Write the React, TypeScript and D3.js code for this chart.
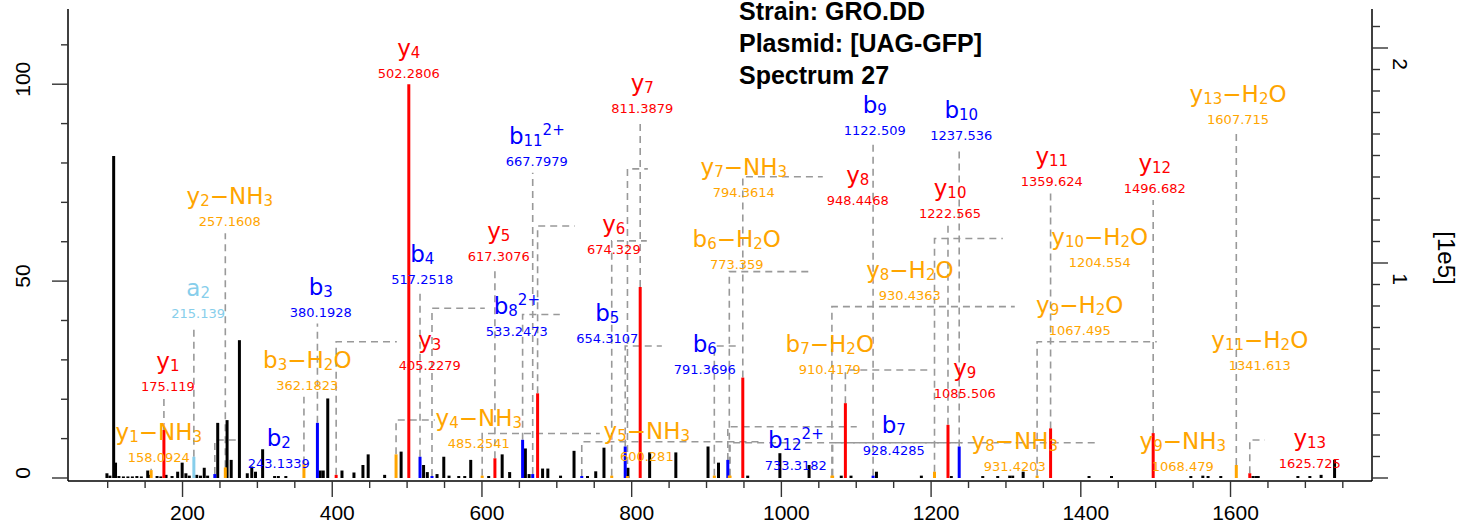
import React from "react";
import * as d3 from "d3";

// ---------- data ----------
// unannotated (black) peaks: m/z and relative intensity (%)
const blackMz = [99, 103, 108, 110.5, 115, 121, 127, 133, 139, 145, 153.5, 156, 166, 171, 178, 186, 193.5, 199.5, 204.5, 209, 219, 224, 229, 233.5, 247, 259.5, 265, 276, 286.5, 292.5, 297.5, 307, 323, 328, 338, 384, 388, 394, 413, 429, 441, 448, 470, 492, 522, 527, 540, 549, 556, 569, 577, 585, 609, 627, 637, 658, 663, 681, 688, 705, 723, 741, 752, 763, 795, 824, 859, 902, 916, 955, 998, 1037, 1080, 1093, 1127, 1187, 1227, 1269, 1289, 1305, 1309, 1323, 1411, 1441, 1547, 1563, 1570, 1587, 1630, 1634, 1637, 1690, 1706, 1721, 1739];
const blackInt = [1.2, 0.6, 81.8, 3.9, 0.5, 0.4, 0.4, 0.4, 0.5, 0.4, 1.9, 0.8, 0.5, 0.4, 0.8, 0.5, 1.6, 3.9, 1.2, 0.6, 0.8, 0.6, 2.6, 0.6, 14.0, 14.7, 4.6, 35.0, 1.2, 2.9, 1.6, 7.3, 0.5, 0.5, 0.5, 1.9, 1.9, 20.2, 1.9, 1.4, 3.3, 6.0, 0.8, 6.7, 3.3, 1.5, 1.0, 5.4, 0.6, 0.5, 0.5, 4.6, 0.5, 6.0, 1.5, 7.5, 1.0, 2.4, 2.4, 0.6, 6.9, 0.5, 1.7, 7.7, 2.6, 6.5, 6.5, 8.0, 3.9, 0.6, 6.3, 3.3, 0.6, 0.6, 1.6, 0.6, 0.5, 0.5, 0.5, 0.6, 0.6, 1.6, 0.5, 0.5, 0.5, 0.6, 0.5, 0.5, 0.5, 0.5, 0.5, 0.5, 0.5, 0.8, 4.6];

// annotated fragment ions
const ionNames = ["y1-NH3", "y1", "a2", "b2", "y2-NH3", "b3-H2O", "b3", "y3", "y4-NH3", "y4", "b4", "b8^2+", "y5-NH3", "y5", "b5", "b11^2+", "y6", "b12^2+", "b6-H2O", "b6", "y7-NH3", "y7", "b7-H2O", "b7", "y8-H2O", "y8-NH3", "y8", "y9-H2O", "y9-NH3", "y9", "b9", "y10-H2O", "y10", "b10", "y11-H2O", "y11", "y12", "y13-H2O", "y13"];
const ionMz = [158.0924, 175.119, 215.139, 243.1339, 257.1608, 362.1823, 380.1928, 405.2279, 485.2541, 502.2806, 517.2518, 533.2473, 600.281, 617.3076, 654.3107, 667.7979, 674.329, 733.3182, 773.359, 791.3696, 794.3614, 811.3879, 910.4179, 928.4285, 930.4363, 931.4203, 948.4468, 1067.495, 1068.479, 1085.506, 1122.509, 1204.554, 1222.565, 1237.536, 1341.613, 1359.624, 1496.682, 1607.715, 1625.725];
const ionInt = [2.0, 12.2, 5.4, 1.0, 2.7, 3.7, 14.0, 0.8, 6.0, 100, 5.4, 0.5, 0.6, 5.0, 9.7, 1.0, 21.5, 0.5, 0.6, 8.0, 0.5, 48.5, 0.6, 4.6, 0.6, 0.6, 25.5, 0.6, 0.6, 19.0, 0.6, 1.6, 13.5, 8.0, 0.6, 12.6, 11.4, 3.3, 1.2];

// label layout (in data units): label centre m/z, level of the m/z text, end of horizontal leader
const labelMz = [168.3, 180.4, 220.8, 328.6, 263.2, 366.7, 384.7, 530.3, 595.8, 502.3, 520.3, 646.6, 820.2, 622.5, 767.5, 673.3, 776.1, 1019.3, 940.4, 897.7, 949.8, 814.2, 1064.7, 1150.2, 1171.6, 1311.8, 1102.1, 1398.6, 1536.2, 1245.0, 1124.8, 1425.3, 1225.4, 1240.3, 1639.1, 1361.2, 1498.8, 1610.1, 1705.9];
const labelLevel = [4.14, 22.0, 40.6, 2.54, 63.9, 22.4, 41.0, 27.5, 7.6, 101.7, 49.3, 36.0, 4.2, 55.0, 34.4, 79.3, 56.9, 2.1, 53.1, 26.4, 71.4, 92.7, 26.4, 5.9, 45.3, 1.85, 69.4, 36.4, 1.85, 20.3, 87.2, 53.7, 66.0, 85.9, 27.5, 74.1, 72.4, 89.9, 2.54];
const leaderEnd: (number | null)[] = [null, null, null, 276.5, null, null, null, 486.3, 537.0, null, null, 603.8, 757.4, null, 704.0, null, 724.0, 975.2, 820.2, 840.3, 821.6, null, 944.5, 1100.7, 1042.0, 1241.0, 1055.3, 1311.8, 1418.7, 1198.3, null, 1295.8, null, null, 1501.5, null, null, null, 1645.8];

const xTicks = d3.range(100, 1751, 50);
const xLabels = [200, 400, 600, 800, 1000, 1200, 1400, 1600];
const yTicks = d3.range(0, 111, 10);
const yLabels = [0, 50, 100];
const rTicks = d3.range(0, 22).map((i) => i / 10);
const rLabels = [1, 2];
const titleLines = ["Strain: GRO.DD", "Plasmid: [UAG-GFP]", "Spectrum 27"];

// ---------- styling ----------
const RED = "#FF0000";
const BLUE = "#0000FF";
const ORANGE = "#FFA500";
const SKY = "#87CEEB";
const LABEL_FONT = "'DejaVu Sans', Verdana, sans-serif";
const AXIS_FONT = "'Liberation Sans', Arial, Helvetica, sans-serif";
const NAME_SIZE = 23;
const SUB_SIZE = 15;
const SUB_DY = 2;

function parseIon(name: string) {
  const m = name.match(/^([aby])(\d+)(?:-(NH3|H2O))?(?:\^(\d\+))?$/);
  if (!m) return { letter: name, idx: "", loss: "", charge: "" };
  return { letter: m[1], idx: m[2], loss: m[3] || "", charge: m[4] || "" };
}

function ionColor(name: string) {
  const p = parseIon(name);
  if (p.loss) return ORANGE;
  if (p.letter === "y") return RED;
  if (p.letter === "b") return BLUE;
  return SKY;
}

function fmtMz(v: number) {
  return String(Number(v.toPrecision(7)));
}

function IonName({ name, x, y, color }: { name: string; x: number; y: number; color: string }) {
  const p = parseIon(name);
  const parts: React.ReactNode[] = [];
  parts.push(<tspan key="l">{p.letter}</tspan>);
  parts.push(
    <tspan key="i" fontSize={SUB_SIZE} dy={SUB_DY}>
      {p.idx}
    </tspan>
  );
  let cur = SUB_DY;
  if (p.loss === "NH3") {
    parts.push(<tspan key="a" fontSize={NAME_SIZE} dy={-cur}>{"\u2212NH"}</tspan>);
    parts.push(<tspan key="b" fontSize={SUB_SIZE} dy={SUB_DY}>3</tspan>);
    cur = SUB_DY;
  } else if (p.loss === "H2O") {
    parts.push(<tspan key="a" fontSize={NAME_SIZE} dy={-cur}>{"\u2212H"}</tspan>);
    parts.push(<tspan key="b" fontSize={SUB_SIZE} dy={SUB_DY}>2</tspan>);
    parts.push(<tspan key="c" fontSize={NAME_SIZE} dy={-SUB_DY}>O</tspan>);
    cur = 0;
  }
  if (p.charge) {
    parts.push(
      <tspan key="z" fontSize={SUB_SIZE} dy={-cur - 9}>
        {p.charge}
      </tspan>
    );
  }
  return (
    <text x={x} y={y} textAnchor="middle" fill={color} fontSize={NAME_SIZE} fontFamily={LABEL_FONT}>
      {parts}
    </text>
  );
}

export default function App() {
  const W = 1462;
  const H = 523;
  const x = d3.scaleLinear().domain([47, 1789]).range([68, 1372]);
  const y = d3.scaleLinear().domain([0, 119.1]).range([478, 9]);
  const yR = d3.scaleLinear().domain([0, 2.1814]).range([478, 9]);
  const axisY = 481;
  const left = 68;
  const right = 1372;
  const top = 9;

  const ions = ionNames.map((name, i) => {
    const px = x(ionMz[i]);
    const peakTop = y(ionInt[i]);
    const mzBase = y(labelLevel[i]);
    const nameBase = mzBase - 22;
    const lx = x(labelMz[i]);
    const end = leaderEnd[i];
    let leader = "";
    if (end === null) {
      if (mzBase + 7 < peakTop - 1) leader = `M${px},${peakTop}V${mzBase + 7}`;
    } else {
      const ly = nameBase - 6;
      leader = `M${px},${peakTop}V${ly}H${x(end)}`;
    }
    return { name, px, peakTop, mzBase, nameBase, lx, leader, color: ionColor(name), mz: ionMz[i] };
  });

  return (
    <svg width={W} height={H} style={{ position: "absolute", left: 0, top: 0, background: "#fff" }}>
      <rect x={0} y={0} width={W} height={H} fill="#fff" />
      {/* leaders */}
      <g fill="none" stroke="#999" strokeWidth={1.6} strokeDasharray="7,5">
        {ions.map((d, i) => (d.leader ? <path key={i} d={d.leader} /> : null))}
      </g>
      {/* black peaks */}
      <g stroke="#000" strokeWidth={3}>
        {blackMz.map((m, i) => (
          <line key={i} x1={x(m)} x2={x(m)} y1={y(0)} y2={y(blackInt[i])} />
        ))}
      </g>
      {/* annotated peaks */}
      <g strokeWidth={3}>
        {ions.map((d, i) => (
          <line key={i} x1={d.px} x2={d.px} y1={y(0)} y2={d.peakTop} stroke={d.color} />
        ))}
      </g>
      {/* labels */}
      {ions.map((d, i) => (
        <g key={i}>
          <IonName name={d.name} x={d.lx} y={d.nameBase} color={d.color} />
          <text x={d.lx} y={d.mzBase} textAnchor="middle" fill={d.color} fontSize={13} fontFamily={LABEL_FONT}>
            {fmtMz(d.mz)}
          </text>
        </g>
      ))}
      {/* axes */}
      <g stroke="#000" strokeWidth={1.5} fill="none">
        <line x1={left} x2={left} y1={top} y2={axisY} />
        <line x1={right} x2={right} y1={top} y2={axisY} />
        <line x1={left} x2={right} y1={axisY} y2={axisY} />
      </g>
      <g stroke="#333" strokeWidth={1.4}>
        {xTicks.map((t) => (
          <line key={t} x1={x(t)} x2={x(t)} y1={axisY} y2={axisY + (t % 200 === 0 ? 16 : 7)} />
        ))}
        {yTicks.map((t) => (
          <line key={t} x1={left} x2={left - (t % 50 === 0 ? 16 : 7)} y1={y(t)} y2={y(t)} />
        ))}
        {rTicks.map((t, i) => (
          <line key={i} x1={right} x2={right + (i % 10 === 0 ? 16 : 8)} y1={yR(t)} y2={yR(t)} />
        ))}
      </g>
      <g fontFamily={AXIS_FONT} fontSize={21} fill="#000">
        {xLabels.map((t) => (
          <text key={t} x={x(t) + 5} y={520} textAnchor="middle">
            {t}
          </text>
        ))}
        {yLabels.map((t) => (
          <text key={t} x={30} y={y(t) - 5} textAnchor="middle" transform={`rotate(-90, 30, ${y(t) - 5})`}>
            {t}
          </text>
        ))}
        {rLabels.map((t) => (
          <text key={t} x={1393} y={yR(t) + 16} textAnchor="middle" transform={`rotate(90, 1393, ${yR(t) + 16})`}>
            {t}
          </text>
        ))}
        <text x={1438} y={258} textAnchor="middle" fontSize={24} transform="rotate(90, 1438, 258)">
          [1e5]
        </text>
      </g>
      {/* title */}
      <g fontFamily={AXIS_FONT} fontWeight="bold" fontSize={25} fill="#000">
        {titleLines.map((s, i) => (
          <text key={i} x={739} y={20 + i * 32}>
            {s}
          </text>
        ))}
      </g>
    </svg>
  );
}
